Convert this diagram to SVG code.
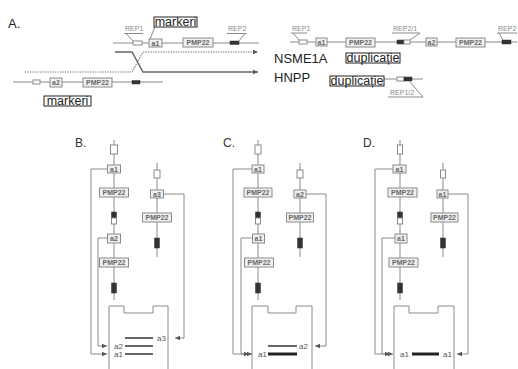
<svg xmlns="http://www.w3.org/2000/svg" width="518" height="369" viewBox="0 0 518 369">
<defs>
<style>
.ln{stroke:#8a8a8a;stroke-width:1;fill:none}
.cn{stroke:#8a8a8a;stroke-width:1;fill:none}
.bx{fill:#f0f0f0;stroke:#8a8a8a;stroke-width:1}
.wr{fill:#fff;stroke:#8a8a8a;stroke-width:1}
.bk{fill:#333;stroke:#333;stroke-width:0.5}
.bt{font-family:"Liberation Sans",Arial,sans-serif;font-weight:bold;font-size:7px;fill:#666;text-anchor:middle}
.dl{font-family:"Liberation Sans",Arial,sans-serif;font-size:8px;fill:#555}
.big{font-family:"Liberation Sans",Arial,sans-serif;font-size:13px;fill:#222}
.tg{font-family:"Liberation Sans",Arial,sans-serif;font-size:12.5px;fill:#222;text-anchor:middle}
.pl{font-family:"Liberation Sans",Arial,sans-serif;font-size:12px;fill:#333}
.rep{font-family:"Liberation Sans",Arial,sans-serif;font-size:7px;fill:#888}
.tag{fill:#fff;stroke:#222;stroke-width:1}
.bar{stroke:#666;stroke-width:2}
.barb{stroke:#222;stroke-width:3}
</style>
<marker id="ah" markerWidth="6" markerHeight="6" refX="5" refY="3" orient="auto" markerUnits="userSpaceOnUse">
<path d="M0,0.8 L5,3 L0,5.2 z" fill="#555"/>
</marker>
</defs>

<!-- Panel A -->
<g id="panelA">
<text class="big" x="8" y="28">A.</text>
<g id="chrA-top">
<line class="ln" x1="113" y1="43" x2="259" y2="43"/>
<rect class="wr" x="133" y="41" width="9" height="4"/>
<rect class="bx" x="149" y="39" width="13" height="8"/>
<text class="bt" x="155.5" y="45.5">a1</text>
<rect class="bx" x="183" y="38" width="30" height="9"/>
<text class="bt" x="198" y="45">PMP22</text>
<rect class="bk" x="230" y="41" width="9" height="3.5"/>
<text class="rep" x="125" y="31">REP1</text>
<path class="ln" d="M124 33.5 H143 M126 33.5 L133 41"/>
<text class="rep" x="228" y="31">REP2</text>
<path class="ln" d="M227 33.5 H247 M245 33.5 L239 41"/>
<line class="ln" x1="150" y1="39" x2="155" y2="27"/>
<rect class="tag" x="154" y="17" width="43" height="10"/>
<text class="tg" x="175.5" y="26">markeri</text>
</g>
<g id="chrA-bottom">
<line class="ln" x1="13" y1="82" x2="163" y2="82"/>
<rect class="wr" x="33" y="80" width="7" height="4"/>
<rect class="bx" x="50" y="78" width="12" height="9"/>
<text class="bt" x="56" y="85">a2</text>
<rect class="bx" x="83" y="78" width="29" height="9"/>
<text class="bt" x="97.5" y="85">PMP22</text>
<rect class="bk" x="132" y="80.5" width="8" height="3.5"/>
<rect class="tag" x="44" y="96" width="47" height="10"/>
<text class="tg" x="67.5" y="105">markeri</text>
</g>
<g id="crossover">
<path d="M115 52 H132 L143 72 H258" fill="none" stroke="#666" stroke-width="1.5" marker-end="url(#ah)"/>
<path d="M25 72 H132 L143 52 H258" fill="none" stroke="#666" stroke-width="1.2" stroke-dasharray="1.2,1.3" marker-end="url(#ah)"/>
<text class="big" x="274" y="63">NSME1A</text>
<text class="big" x="274" y="82">HNPP</text>
</g>
<g id="chrA-dup">
<line class="ln" x1="290" y1="42" x2="517" y2="42"/>
<rect class="wr" x="299" y="40" width="8" height="4"/>
<rect class="bx" x="316" y="38" width="11" height="8"/>
<text class="bt" x="321.5" y="44.5">a1</text>
<rect class="bx" x="346" y="38" width="29" height="9"/>
<text class="bt" x="360.5" y="45">PMP22</text>
<rect class="bk" x="397" y="40" width="7" height="4"/>
<rect class="wr" x="404" y="40" width="6" height="4"/>
<rect class="bx" x="426" y="38" width="11" height="8"/>
<text class="bt" x="431.5" y="44.5">a2</text>
<rect class="bx" x="456" y="38" width="29" height="9"/>
<text class="bt" x="470.5" y="45">PMP22</text>
<rect class="bk" x="502" y="40" width="9" height="4"/>
<text class="rep" x="292" y="31">REP1</text>
<path class="ln" d="M291 33 H307 M293 33 L299 40"/>
<text class="rep" x="393" y="31">REP2/1</text>
<path class="ln" d="M392 33 H420 M420 33 L410 40"/>
<text class="rep" x="498" y="31">REP2</text>
<path class="ln" d="M497 33 H517 M499 33 L503 40"/>
<rect class="tag" x="346" y="53" width="54" height="10"/>
<text class="tg" x="373" y="62">duplicație</text>
</g>
<g id="chrA-del">
<line class="ln" x1="384" y1="79" x2="423" y2="79"/>
<rect class="wr" x="397" y="77" width="7" height="4"/>
<rect class="bk" x="404" y="77" width="8" height="4"/>
<rect class="tag" x="330" y="76" width="54" height="10"/>
<text class="tg" x="357" y="85">duplicație</text>
<text class="rep" x="390" y="95">REP1/2</text>
<path class="ln" d="M388 97 H423 M423 97 L410 82"/>
</g>
</g>

<!-- Panel B -->
<g id="panelB" transform="translate(114,0)">
<text class="pl" x="-39" y="147">B.</text>
<g id="B-chr1">
<line class="ln" x1="0" y1="140" x2="0" y2="300"/>
<rect class="wr" x="-3.5" y="145" width="7" height="9"/>
<rect class="bx" x="-6.5" y="165" width="13" height="8"/>
<text class="bt" x="0" y="171.5">a1</text>
<rect class="bx" x="-14.5" y="188" width="29" height="9"/>
<text class="bt" x="0" y="195">PMP22</text>
<rect class="bk" x="-2.5" y="212" width="5" height="6"/>
<rect class="wr" x="-2.5" y="218" width="5" height="6"/>
<rect class="bx" x="-6.5" y="234" width="13" height="9"/>
<text class="bt" x="0" y="241">a2</text>
<rect class="bx" x="-14.5" y="258" width="29" height="9"/>
<text class="bt" x="0" y="265">PMP22</text>
<rect class="bk" x="-2.5" y="283" width="5" height="10"/>
</g>
<g id="B-chr2">
<line class="ln" x1="43" y1="163" x2="43" y2="257"/>
<rect class="wr" x="40" y="170" width="6" height="8"/>
<rect class="bx" x="36.5" y="190" width="13" height="8"/>
<text class="bt" x="43" y="196.5">a3</text>
<rect class="bx" x="28.5" y="213" width="29" height="9"/>
<text class="bt" x="43" y="220">PMP22</text>
<rect class="bk" x="40.5" y="238" width="5" height="10"/>
</g>
<g id="B-dish">
<path class="ln" d="M-5 369 V306 H10 V313 H39 V306 H54 V369"/>
<line class="bar" x1="11" y1="338" x2="39" y2="338"/>
<line class="bar" x1="11" y1="346" x2="39" y2="346"/>
<line class="bar" x1="11" y1="354" x2="39" y2="354"/>
<text class="dl" x="43" y="341">a3</text>
<text class="dl" x="0" y="349">a2</text>
<text class="dl" x="0" y="357">a1</text>
</g>
<g id="B-connectors">
<path class="cn" d="M-6.5 169 H-23 V354 H-7" marker-end="url(#ah)"/>
<path class="cn" d="M-6.5 238 H-16 V346 H-7" marker-end="url(#ah)"/>
<path class="cn" d="M49.5 194 H70 V338 H61" marker-end="url(#ah)"/>
</g>
</g>

<!-- Panel C -->
<g id="panelC" transform="translate(258,0)">
<text class="pl" x="-35" y="147">C.</text>
<g id="C-chr1">
<line class="ln" x1="0" y1="140" x2="0" y2="300"/>
<rect class="wr" x="-3" y="145" width="6" height="9"/>
<rect class="bx" x="-6" y="165" width="12" height="8"/>
<text class="bt" x="0" y="171.5">a1</text>
<rect class="bx" x="-14" y="188" width="28" height="9"/>
<text class="bt" x="0" y="195">PMP22</text>
<rect class="bk" x="-2.5" y="212" width="5" height="6"/>
<rect class="wr" x="-2.5" y="218" width="5" height="6"/>
<rect class="bx" x="-5.5" y="234" width="12" height="9"/>
<text class="bt" x="0.5" y="241">a1</text>
<rect class="bx" x="-13.5" y="258" width="29" height="9"/>
<text class="bt" x="1" y="265">PMP22</text>
<rect class="bk" x="-2.5" y="283" width="5" height="10"/>
</g>
<g id="C-chr2">
<line class="ln" x1="42" y1="163" x2="42" y2="257"/>
<rect class="wr" x="39" y="170" width="6" height="8"/>
<rect class="bx" x="36" y="190" width="12" height="8"/>
<text class="bt" x="42" y="196.5">a2</text>
<rect class="bx" x="28.5" y="213" width="27" height="9"/>
<text class="bt" x="42" y="220">PMP22</text>
<rect class="bk" x="39.5" y="238" width="5" height="10"/>
</g>
<g id="C-dish">
<path class="ln" d="M-6 369 V306 H10 V313 H38 V306 H54 V369"/>
<line class="bar" x1="10" y1="346" x2="39" y2="346"/>
<line class="barb" x1="10" y1="354" x2="39" y2="354"/>
<text class="dl" x="41" y="349">a2</text>
<text class="dl" x="0" y="357">a1</text>
</g>
<g id="C-connectors">
<path class="cn" d="M-6 169 H-25 V354 H-6" marker-end="url(#ah)"/>
<path class="cn" d="M-5.5 238 H-17 V354 H-9" marker-end="url(#ah)"/>
<path class="cn" d="M48 194 H68 V346 H57" marker-end="url(#ah)"/>
</g>
</g>

<!-- Panel D -->
<g id="panelD" transform="translate(400,0)">
<text class="pl" x="-37" y="147">D.</text>
<g id="D-chr1">
<line class="ln" x1="0" y1="140" x2="0" y2="300"/>
<rect class="wr" x="-2.5" y="145" width="5" height="9"/>
<rect class="bx" x="-7" y="165" width="13" height="8"/>
<text class="bt" x="-0.5" y="171.5">a1</text>
<rect class="bx" x="-12" y="188" width="29" height="9"/>
<text class="bt" x="2.5" y="195">PMP22</text>
<rect class="bk" x="-2.5" y="212" width="5" height="6"/>
<rect class="wr" x="-2.5" y="218" width="5" height="6"/>
<rect class="bx" x="-5" y="234" width="12" height="9"/>
<text class="bt" x="1" y="241">a1</text>
<rect class="bx" x="-11" y="258" width="29" height="9"/>
<text class="bt" x="3.5" y="265">PMP22</text>
<rect class="bk" x="-2.5" y="283" width="5" height="10"/>
</g>
<g id="D-chr2">
<line class="ln" x1="43" y1="163" x2="43" y2="257"/>
<rect class="wr" x="40.5" y="170" width="5" height="8"/>
<rect class="bx" x="37" y="190" width="11" height="8"/>
<text class="bt" x="42.5" y="196.5">a1</text>
<rect class="bx" x="31" y="213" width="27" height="9"/>
<text class="bt" x="44.5" y="220">PMP22</text>
<rect class="bk" x="40.5" y="238" width="5" height="10"/>
</g>
<g id="D-dish">
<path class="ln" d="M-6 369 V306 H9 V313 H38 V306 H54 V369"/>
<line class="barb" x1="12" y1="354" x2="39" y2="354"/>
<text class="dl" x="0" y="357">a1</text>
<text class="dl" x="43" y="357">a1</text>
</g>
<g id="D-connectors">
<path class="cn" d="M-7 169 H-25 V354 H-7" marker-end="url(#ah)"/>
<path class="cn" d="M-5 238 H-18 V354 H-10" marker-end="url(#ah)"/>
<path class="cn" d="M48 194 H68 V354 H57" marker-end="url(#ah)"/>
</g>
</g>
</svg>
